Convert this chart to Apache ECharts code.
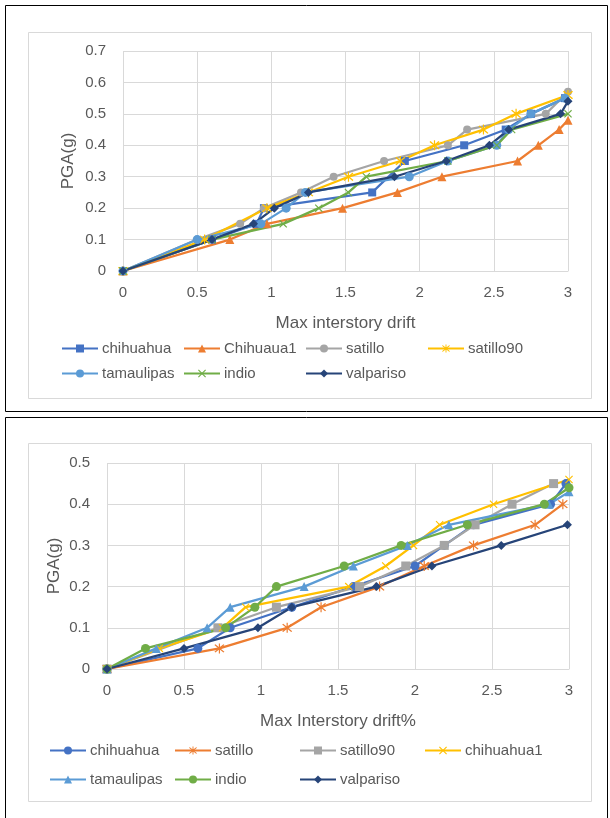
<!DOCTYPE html>
<html>
<head>
<meta charset="utf-8">
<script src="https://cdn.jsdelivr.net/npm/echarts@6/dist/echarts.min.js"></script>
<style>
html,body{margin:0;padding:0;background:#fff;}
#c{width:610px;height:818px;}
</style>
</head>
<body>
<div id="c"></div>
<script>
// ---------- DATA: top chart ----------
const xTicks = ['0', '0.5', '1', '1.5', '2', '2.5', '3'];
const top_chihuahua  = [[0,0],[0.6,0.1],[0.9,0.15],[0.95,0.2],[1.68,0.25],[1.9,0.35],[2.3,0.4],[2.58,0.45],[2.75,0.5],[2.98,0.55]];
const top_chihuaua1  = [[0,0],[0.72,0.1],[0.97,0.15],[1.48,0.2],[1.85,0.25],[2.15,0.3],[2.66,0.35],[2.8,0.4],[2.94,0.45],[3.0,0.48]];
const top_satillo    = [[0,0],[0.5,0.1],[0.79,0.15],[0.95,0.2],[1.2,0.25],[1.42,0.3],[1.76,0.35],[2.19,0.4],[2.32,0.45],[2.85,0.5],[3.0,0.57]];
const top_satillo90  = [[0,0],[0.55,0.1],[0.97,0.2],[1.25,0.25],[1.52,0.3],[1.87,0.35],[2.1,0.4],[2.43,0.45],[2.65,0.5],[3.0,0.56]];
const top_tamaulipas = [[0,0],[0.5,0.1],[0.93,0.15],[1.1,0.2],[1.23,0.25],[1.93,0.3],[2.19,0.35],[2.52,0.4],[2.6,0.45],[2.75,0.5],[2.98,0.55]];
const top_indio      = [[0,0],[0.6,0.1],[1.08,0.15],[1.32,0.2],[1.52,0.25],[1.64,0.3],[2.19,0.35],[2.52,0.4],[2.62,0.45],[3.0,0.5]];
const top_valpariso  = [[0,0],[0.6,0.1],[0.88,0.15],[1.02,0.2],[1.25,0.25],[1.83,0.3],[2.18,0.35],[2.47,0.4],[2.6,0.45],[2.95,0.5],[3.0,0.54]];

// ---------- DATA: bottom chart ----------
const bot_chihuahua  = [[0,0],[0.59,0.05],[0.8,0.1],[1.2,0.15],[1.6,0.2],[2.0,0.25],[2.19,0.3],[2.38,0.35],[2.88,0.4],[2.98,0.45]];
const bot_satillo    = [[0,0],[0.73,0.05],[1.17,0.1],[1.39,0.15],[1.77,0.2],[2.06,0.25],[2.38,0.3],[2.78,0.35],[2.96,0.4]];
const bot_satillo90  = [[0,0],[0.72,0.1],[1.1,0.15],[1.64,0.2],[1.94,0.25],[2.19,0.3],[2.39,0.35],[2.63,0.4],[2.9,0.45]];
const bot_chihuahua1 = [[0,0],[0.34,0.05],[0.75,0.1],[0.9,0.15],[1.57,0.2],[1.81,0.25],[1.99,0.3],[2.16,0.35],[2.51,0.4],[3.0,0.46]];
const bot_tamaulipas = [[0,0],[0.32,0.05],[0.65,0.1],[0.8,0.15],[1.28,0.2],[1.6,0.25],[1.95,0.3],[2.22,0.35],[2.87,0.4],[3.0,0.43]];
const bot_indio      = [[0,0],[0.25,0.05],[0.77,0.1],[0.96,0.15],[1.1,0.2],[1.54,0.25],[1.91,0.3],[2.34,0.35],[2.84,0.4],[3.0,0.44]];
const bot_valpariso  = [[0,0],[0.5,0.05],[0.98,0.1],[1.2,0.15],[1.75,0.2],[2.11,0.25],[2.56,0.3],[2.99,0.35]];

// ---------- STYLE ----------
const C = {blue:'#4472C4', orange:'#ED7D31', gray:'#A5A5A5', yellow:'#FFC000', lblue:'#5B9BD5', green:'#70AD47', navy:'#264478'};
const TXT = '#595959';
const FONT = 'Liberation Sans';
const XSYM = 'path://M0,1 L1,0 L5,4 L9,0 L10,1 L6,5 L10,9 L9,10 L5,6 L1,10 L0,9 L4,5 Z';
const STAR = 'path://M0,1 L1,0 L5,4 L9,0 L10,1 L6,5 L10,9 L9,10 L5,6 L1,10 L0,9 L4,5 Z M4.4,-1 L5.6,-1 L5.6,11 L4.4,11 Z';

function mk(name, data, color, symbol, size, idx) {
  return {
    name: name, type: 'line', data: data, xAxisIndex: idx, yAxisIndex: idx,
    symbol: symbol, symbolSize: size, showSymbol: true,
    lineStyle: {color: color, width: 2.25}, itemStyle: {color: color},
    emphasis: {disabled: true}, animation: false, z: 3
  };
}

const series = [
  mk('chihuahua', top_chihuahua, C.blue, 'rect', 8, 0),
  mk('Chihuaua1', top_chihuaua1, C.orange, 'triangle', 9, 0),
  mk('satillo', top_satillo, C.gray, 'circle', 8, 0),
  mk('satillo90', top_satillo90, C.yellow, STAR, 10, 0),
  mk('tamaulipas', top_tamaulipas, C.lblue, 'circle', 9, 0),
  mk('indio', top_indio, C.green, XSYM, 8, 0),
  mk('valpariso', top_valpariso, C.navy, 'diamond', 9, 0),
  mk('b_chihuahua', bot_chihuahua, C.blue, 'circle', 9, 1),
  mk('b_satillo', bot_satillo, C.orange, STAR, 10, 1),
  mk('b_satillo90', bot_satillo90, C.gray, 'rect', 9, 1),
  mk('b_chihuahua1', bot_chihuahua1, C.yellow, XSYM, 8, 1),
  mk('b_tamaulipas', bot_tamaulipas, C.lblue, 'triangle', 9, 1),
  mk('b_indio', bot_indio, C.green, 'circle', 9, 1),
  mk('b_valpariso', bot_valpariso, C.navy, 'diamond', 9, 1)
];

function lg(name, left, top) {
  return {
    data: [name], left: left, top: top, padding: 0, itemWidth: 36, itemHeight: 10,
    selectedMode: false,
    formatter: n => n.replace(/^b_/, ''),
    textStyle: {color: TXT, fontSize: 15, fontFamily: FONT, padding: [0,0,0,-1]}
  };
}
const legends = [
  lg('chihuahua', 61, 341), lg('Chihuaua1', 183, 341), lg('satillo', 305, 341), lg('satillo90', 427, 341),
  lg('tamaulipas', 61, 366), lg('indio', 183, 366), lg('valpariso', 305, 366),
  lg('b_chihuahua', 49, 743), lg('b_satillo', 174, 743), lg('b_satillo90', 299, 743), lg('b_chihuahua1', 424, 743),
  lg('b_tamaulipas', 49, 772), lg('b_indio', 174, 772), lg('b_valpariso', 299, 772)
];

function xAx(idx, title) {
  return {
    type: 'value', gridIndex: idx, min: 0, max: 3, interval: 0.5,
    name: title, nameLocation: 'middle', nameGap: 44, nameMoveOverlap: false,
    nameTextStyle: {color: TXT, fontSize: 17, fontFamily: FONT},
    axisLine: {show: true, lineStyle: {color: '#D9D9D9', width: 1}},
    axisTick: {show: false},
    axisLabel: {color: TXT, fontSize: 15, fontFamily: FONT, margin: 14, formatter: v => xTicks[Math.round(v / 0.5)]},
    splitLine: {show: true, lineStyle: {color: '#D9D9D9', width: 1}}
  };
}
function yAx(idx, max, gap) {
  return {
    type: 'value', gridIndex: idx, min: 0, max: max, interval: 0.1,
    name: 'PGA(g)', nameLocation: 'middle', nameGap: gap, nameRotate: 90, nameMoveOverlap: false,
    nameTextStyle: {color: TXT, fontSize: 17, fontFamily: FONT},
    axisLine: {show: false}, axisTick: {show: false},
    axisLabel: {color: TXT, fontSize: 15, fontFamily: FONT, margin: 17, formatter: v => (Math.round(v * 10) / 10).toString()},
    splitLine: {show: true, lineStyle: {color: '#D9D9D9', width: 1}}
  };
}

const option = {
  backgroundColor: '#ffffff',
  animation: false,
  graphic: [
    {type: 'rect', shape: {x: 5.5, y: 5.5, width: 602, height: 406}, style: {fill: null, stroke: '#000', lineWidth: 1}, silent: true},
    {type: 'rect', shape: {x: 28.5, y: 32.5, width: 563, height: 366}, style: {fill: null, stroke: '#D9D9D9', lineWidth: 1}, silent: true},
    {type: 'rect', shape: {x: 5.5, y: 417.5, width: 602, height: 420}, style: {fill: null, stroke: '#000', lineWidth: 1}, silent: true},
    {type: 'rect', shape: {x: 28.5, y: 443.5, width: 563, height: 358}, style: {fill: null, stroke: '#D9D9D9', lineWidth: 1}, silent: true}
  ],
  grid: [
    {left: 123, top: 51, width: 445, height: 220, containLabel: false},
    {left: 107, top: 463, width: 462, height: 206, containLabel: false}
  ],
  xAxis: [xAx(0, 'Max interstory drift'), xAx(1, 'Max Interstory drift%')],
  yAxis: [yAx(0, 0.7, 46), yAx(1, 0.5, 44)],
  legend: legends,
  series: series
};

const chart = echarts.init(document.getElementById('c'), null, {renderer: 'canvas'});
chart.setOption(option);
</script>
</body>
</html>
